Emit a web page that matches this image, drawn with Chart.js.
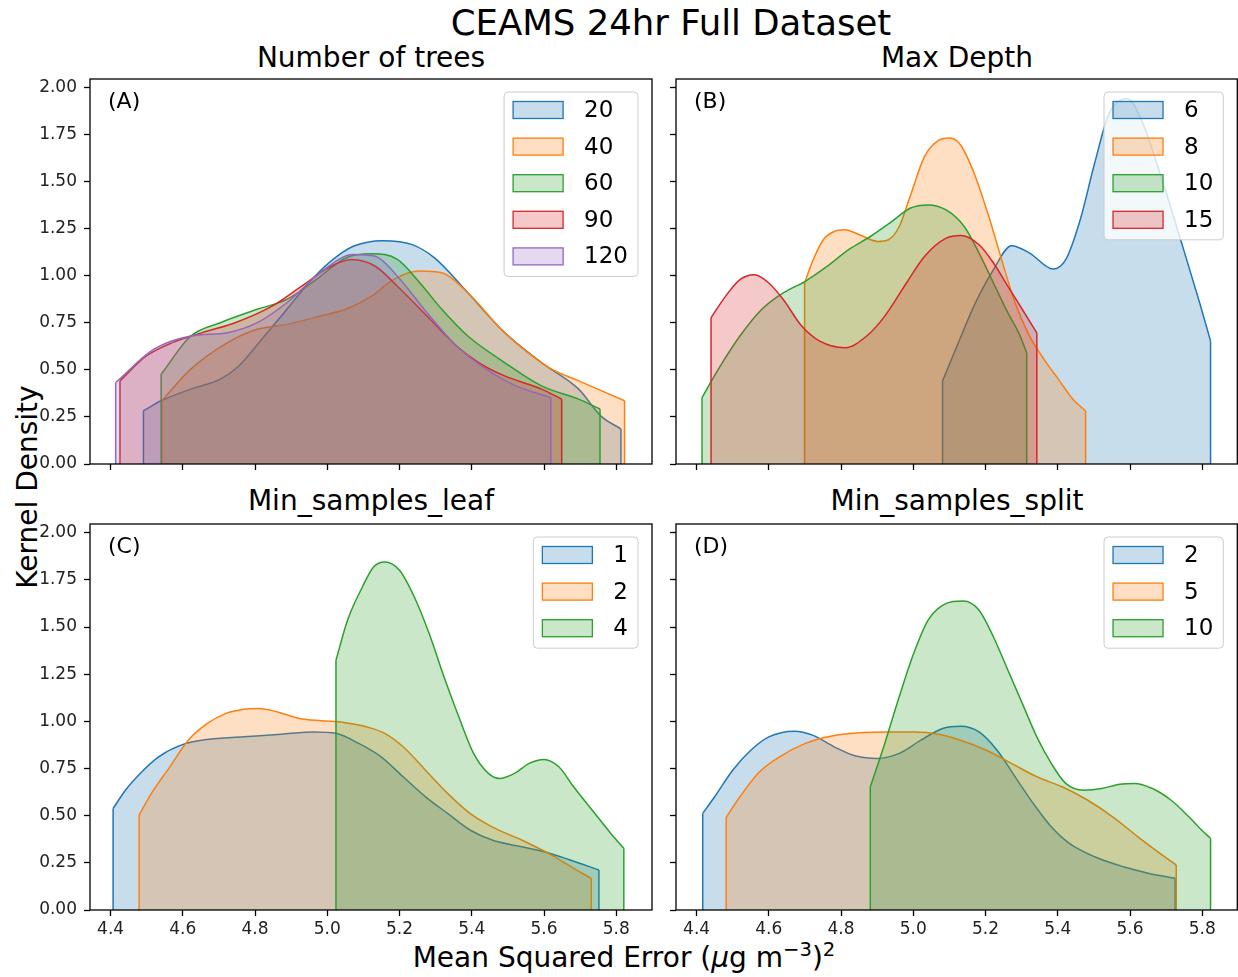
<!DOCTYPE html>
<html>
<head>
<meta charset="utf-8">
<title>CEAMS 24hr Full Dataset</title>
<script src="https://cdn.jsdelivr.net/npm/chart.js@4.4.1/dist/chart.umd.min.js"></script>
<style>
  body { margin: 0; width: 1238px; height: 977px; overflow: hidden; background: #fff;
         font-family: 'DejaVu Sans', sans-serif; color: #000; position: relative; }
  canvas { position: absolute; }
  .txt { position: absolute; white-space: nowrap; line-height: 1; transform: translate(-50%, -50%); }
  .ylab { transform: translate(-50%, -50%) rotate(-90deg); }
  sup { font-size: 70%; vertical-align: 0; position: relative; top: -0.55em; }
</style>
</head>
<body>
<div class="txt" style="left:671px; top:23px; font-size:35.5px">CEAMS 24hr Full Dataset</div>
<div class="txt" style="left:371px; top:58px; font-size:28px">Number of trees</div>
<div class="txt" style="left:957px; top:58px; font-size:28px">Max Depth</div>
<div class="txt" style="left:371px; top:501px; font-size:28px">Min_samples_leaf</div>
<div class="txt" style="left:957px; top:501px; font-size:28px">Min_samples_split</div>
<div class="txt" style="left:624px; top:958px; font-size:28px">Mean Squared Error (<i>μ</i>g m<sup>−3</sup>)<sup>2</sup></div>
<div class="txt ylab" style="left:28px; top:487px; font-size:28px">Kernel Density</div>

<canvas id="panelA" width="662" height="420" style="left:0px; top:70px"></canvas>
<canvas id="panelB" width="652" height="420" style="left:586px; top:70px"></canvas>
<canvas id="panelC" width="662" height="430" style="left:0px; top:515px"></canvas>
<canvas id="panelD" width="652" height="430" style="left:586px; top:515px"></canvas>

<script>
// shared axes
const xTicks = [4.4, 4.6, 4.8, 5.0, 5.2, 5.4, 5.6, 5.8];
const yTicks = [0, 0.25, 0.5, 0.75, 1.0, 1.25, 1.5, 1.75, 2.0];
const X_MIN = 4.343, X_MAX = 5.899, Y_MAX = 2.046;
const colors = ['#1f77b4', '#ff7f0e', '#2ca02c', '#d62728', '#9467bd'];

// (A) number of trees
const treesLabels = ['20', '40', '60', '90', '120'];
const trees20x = [4.491, 4.540, 4.622, 4.704, 4.755, 4.826, 4.888, 4.949, 5.010, 5.072, 5.154, 5.235, 5.297, 5.389, 5.491, 5.593, 5.696, 5.757, 5.813];
const trees20y = [0.283, 0.336, 0.398, 0.451, 0.521, 0.680, 0.822, 0.963, 1.078, 1.157, 1.187, 1.166, 1.095, 0.910, 0.698, 0.539, 0.398, 0.256, 0.186];
const trees40x = [4.542, 4.622, 4.724, 4.806, 4.888, 4.980, 5.051, 5.123, 5.184, 5.256, 5.317, 5.389, 5.491, 5.614, 5.696, 5.823];
const trees40y = [0.336, 0.504, 0.645, 0.716, 0.742, 0.786, 0.822, 0.892, 0.981, 1.025, 1.016, 0.910, 0.698, 0.512, 0.442, 0.336];
const trees60x = [4.540, 4.622, 4.704, 4.806, 4.888, 4.970, 5.051, 5.123, 5.194, 5.256, 5.317, 5.389, 5.491, 5.593, 5.696, 5.755];
const trees60y = [0.477, 0.680, 0.751, 0.822, 0.875, 0.981, 1.095, 1.117, 1.087, 0.963, 0.822, 0.680, 0.539, 0.415, 0.345, 0.292];
const trees90x = [4.426, 4.499, 4.571, 4.653, 4.745, 4.847, 4.929, 5.010, 5.067, 5.133, 5.194, 5.276, 5.358, 5.419, 5.491, 5.593, 5.649];
const trees90y = [0.442, 0.574, 0.645, 0.698, 0.751, 0.839, 0.945, 1.051, 1.087, 1.051, 0.945, 0.786, 0.627, 0.539, 0.468, 0.398, 0.345];
const trees120x = [4.414, 4.520, 4.622, 4.724, 4.806, 4.888, 4.980, 5.072, 5.133, 5.194, 5.276, 5.358, 5.440, 5.522, 5.619];
const trees120y = [0.433, 0.610, 0.680, 0.698, 0.751, 0.857, 1.016, 1.113, 1.104, 0.998, 0.804, 0.627, 0.504, 0.415, 0.353];

// (B) max depth
const depthLabels = ['6', '8', '10', '15'];
const depth6x = [5.081, 5.121, 5.172, 5.222, 5.272, 5.322, 5.387, 5.422, 5.462, 5.502, 5.542, 5.592, 5.632, 5.683, 5.743, 5.793, 5.823];
const depth6y = [0.441, 0.627, 0.856, 1.033, 1.160, 1.121, 1.036, 1.086, 1.297, 1.598, 1.862, 1.942, 1.827, 1.545, 1.174, 0.856, 0.653];
const depth8x = [4.699, 4.721, 4.751, 4.781, 4.811, 4.851, 4.901, 4.931, 4.961, 4.991, 5.031, 5.071, 5.101, 5.131, 5.172, 5.212, 5.242, 5.282, 5.322, 5.362, 5.402, 5.442, 5.477];
const depth8y = [0.962, 1.077, 1.192, 1.236, 1.245, 1.218, 1.183, 1.192, 1.262, 1.421, 1.633, 1.721, 1.733, 1.695, 1.527, 1.297, 1.103, 0.856, 0.680, 0.556, 0.450, 0.344, 0.282];
const depth10x = [4.415, 4.460, 4.520, 4.580, 4.640, 4.701, 4.761, 4.821, 4.881, 4.941, 4.991, 5.041, 5.091, 5.141, 5.182, 5.222, 5.262, 5.292, 5.314];
const depth10y = [0.353, 0.503, 0.680, 0.821, 0.909, 0.971, 1.050, 1.139, 1.209, 1.289, 1.359, 1.377, 1.350, 1.262, 1.121, 0.962, 0.803, 0.697, 0.591];
const depth15x = [4.440, 4.480, 4.520, 4.560, 4.600, 4.640, 4.691, 4.741, 4.811, 4.871, 4.921, 4.981, 5.031, 5.091, 5.131, 5.182, 5.222, 5.262, 5.302, 5.342];
const depth15y = [0.777, 0.891, 0.980, 1.006, 0.962, 0.874, 0.733, 0.653, 0.618, 0.680, 0.786, 0.962, 1.103, 1.200, 1.214, 1.165, 1.068, 0.944, 0.821, 0.697];

// (C) min_samples_leaf
const leafLabels = ['1', '2', '4'];
const leaf1x = [4.407, 4.441, 4.482, 4.533, 4.595, 4.667, 4.769, 4.872, 4.964, 5.026, 5.087, 5.149, 5.210, 5.272, 5.333, 5.395, 5.456, 5.538, 5.600, 5.672, 5.752];
const leaf1y = [0.538, 0.635, 0.724, 0.812, 0.874, 0.904, 0.918, 0.932, 0.944, 0.936, 0.883, 0.812, 0.706, 0.600, 0.512, 0.424, 0.371, 0.335, 0.309, 0.265, 0.212];
const leaf2x = [4.479, 4.513, 4.564, 4.615, 4.667, 4.718, 4.769, 4.810, 4.862, 4.923, 4.985, 5.046, 5.108, 5.159, 5.210, 5.272, 5.333, 5.395, 5.456, 5.538, 5.621, 5.682, 5.731];
const leaf2y = [0.503, 0.618, 0.759, 0.900, 0.988, 1.041, 1.064, 1.068, 1.050, 1.015, 1.003, 0.994, 0.971, 0.936, 0.865, 0.741, 0.618, 0.512, 0.441, 0.371, 0.291, 0.221, 0.168];
const leaf4x = [5.024, 5.056, 5.097, 5.128, 5.159, 5.200, 5.241, 5.282, 5.323, 5.364, 5.405, 5.446, 5.477, 5.518, 5.559, 5.600, 5.641, 5.682, 5.733, 5.785, 5.821];
const leaf4y = [1.324, 1.536, 1.712, 1.818, 1.845, 1.801, 1.659, 1.465, 1.236, 1.024, 0.830, 0.724, 0.697, 0.724, 0.777, 0.798, 0.759, 0.653, 0.530, 0.406, 0.327];

// (D) min_samples_split
const splitLabels = ['2', '5', '10'];
const split2x = [4.417, 4.450, 4.500, 4.550, 4.600, 4.671, 4.721, 4.781, 4.841, 4.901, 4.961, 5.021, 5.081, 5.131, 5.182, 5.232, 5.282, 5.332, 5.382, 5.432, 5.502, 5.582, 5.653, 5.725];
const split2y = [0.512, 0.600, 0.741, 0.847, 0.918, 0.948, 0.927, 0.865, 0.816, 0.803, 0.830, 0.900, 0.962, 0.974, 0.944, 0.847, 0.706, 0.565, 0.441, 0.353, 0.282, 0.229, 0.194, 0.168];
const split5x = [4.482, 4.520, 4.570, 4.630, 4.701, 4.771, 4.851, 4.931, 5.001, 5.071, 5.131, 5.202, 5.272, 5.342, 5.412, 5.482, 5.552, 5.622, 5.683, 5.728];
const split5y = [0.491, 0.600, 0.724, 0.812, 0.883, 0.921, 0.939, 0.944, 0.944, 0.932, 0.900, 0.847, 0.777, 0.706, 0.653, 0.583, 0.494, 0.388, 0.300, 0.238];
const split10x = [4.881, 4.921, 4.961, 5.001, 5.041, 5.081, 5.139, 5.182, 5.222, 5.262, 5.302, 5.342, 5.382, 5.422, 5.472, 5.522, 5.572, 5.612, 5.662, 5.713, 5.763, 5.798, 5.823];
const split10y = [0.653, 0.883, 1.130, 1.359, 1.536, 1.615, 1.638, 1.589, 1.447, 1.271, 1.094, 0.918, 0.777, 0.671, 0.635, 0.644, 0.667, 0.671, 0.644, 0.583, 0.494, 0.424, 0.380];

Chart.defaults.font.family = "'DejaVu Sans', sans-serif";
Chart.defaults.font.size = 17;
Chart.defaults.color = '#000';

function rgba(hex, a) {
    const n = parseInt(hex.slice(1), 16);
    return `rgba(${n >> 16}, ${(n >> 8) & 255}, ${n & 255}, ${a})`;
}

// each curve: filled density + the two vertical cut-off edges
function buildDatasets(series) {
    const out = [];
    series.forEach((s, i) => {
        const pts = s.x.map((v, k) => ({ x: v, y: s.y[k] }));
        const base = i * 3;
        out.push({
            data: pts,
            borderColor: colors[i],
            backgroundColor: rgba(colors[i], 0.25),
            fill: 'origin',
            borderWidth: 1.5,
            pointRadius: 0,
            cubicInterpolationMode: 'monotone',
            order: -base
        });
        const ends = [pts[0], pts[pts.length - 1]];
        ends.forEach((p, k) => {
            out.push({
                data: [{ x: p.x, y: 0 }, { x: p.x, y: p.y }],
                borderColor: colors[i],
                borderWidth: 1.5,
                pointRadius: 0,
                fill: false,
                order: -(base + 1 + k)
            });
        });
    });
    return out;
}

// spines, panel letter and legend box
function makeDecor(letter, names) {
    return {
        id: 'decor',
        afterDraw(chart) {
            const ctx = chart.ctx;
            const ca = chart.chartArea;
            ctx.save();

            const r = Math.min(ca.right, chart.width - 0.7);
            ctx.strokeStyle = '#000';
            ctx.lineWidth = 1.3;
            ctx.strokeRect(ca.left, ca.top, r - ca.left, ca.bottom - ca.top);

            ctx.fillStyle = '#000';
            ctx.font = "22px 'DejaVu Sans'";
            ctx.textBaseline = 'middle';
            ctx.textAlign = 'left';
            ctx.fillText(letter, ca.left + 18, ca.top + 23);

            ctx.font = "23px 'DejaVu Sans'";
            const textW = Math.max(...names.map(n => ctx.measureText(n).width));
            const rowH = 36.6;
            const boxW = 9 + 50 + 21 + textW + 10;
            const right = r - 14;
            const left = right - boxW;
            const top = ca.top + 13;
            const boxH = 18 + (names.length - 1) * rowH + 20;

            ctx.beginPath();
            ctx.roundRect(left, top, boxW, boxH, 4);
            ctx.fillStyle = 'rgba(255,255,255,0.8)';
            ctx.fill();
            ctx.strokeStyle = '#cccccc';
            ctx.lineWidth = 1;
            ctx.stroke();

            names.forEach((n, j) => {
                const cy = top + 18 + j * rowH;
                ctx.fillStyle = rgba(colors[j], 0.25);
                ctx.fillRect(left + 9, cy - 8.5, 50, 17);
                ctx.strokeStyle = colors[j];
                ctx.lineWidth = 1.3;
                ctx.strokeRect(left + 9, cy - 8.5, 50, 17);
                ctx.fillStyle = '#000';
                ctx.fillText(n, left + 80, cy + 1);
            });
            ctx.restore();
        }
    };
}

function makePanel(id, series, names, letter, showX, showY, xHeight) {
    new Chart(document.getElementById(id), {
        type: 'line',
        data: { datasets: buildDatasets(series) },
        options: {
            responsive: false,
            devicePixelRatio: 1,
            animation: false,
            events: [],
            layout: { padding: { top: 9, right: id === 'panelA' || id === 'panelC' ? 10 : 0, left: 0, bottom: 0 } },
            plugins: { legend: { display: false }, tooltip: { enabled: false } },
            scales: {
                x: {
                    type: 'linear',
                    min: X_MIN,
                    max: X_MAX,
                    afterBuildTicks: s => { s.ticks = xTicks.map(v => ({ value: v })); },
                    afterFit: s => { s.height = xHeight; s.paddingLeft = 0; s.paddingRight = 0; },
                    grid: { drawOnChartArea: false, drawTicks: true, tickLength: 6, tickWidth: 1.3, tickColor: '#000' },
                    border: { display: false },
                    ticks: {
                        autoSkip: false, maxRotation: 0, padding: 3, color: '#222',
                        callback: v => showX ? v.toFixed(1) : ''
                    }
                },
                y: {
                    min: 0,
                    max: Y_MAX,
                    afterBuildTicks: s => { s.ticks = yTicks.map(v => ({ value: v })); },
                    afterFit: s => { s.width = 90; s.paddingTop = 0; s.paddingBottom = 0; },
                    grid: { drawOnChartArea: false, drawTicks: true, tickLength: 6, tickWidth: 1.3, tickColor: '#000' },
                    border: { display: false },
                    ticks: {
                        autoSkip: false, padding: 7, color: '#222',
                        callback: v => showY ? v.toFixed(2) : ''
                    }
                }
            }
        },
        plugins: [makeDecor(letter, names)]
    });
}

makePanel('panelA', [
    { x: trees20x, y: trees20y }, { x: trees40x, y: trees40y }, { x: trees60x, y: trees60y },
    { x: trees90x, y: trees90y }, { x: trees120x, y: trees120y }
], treesLabels, '(A)', false, true, 26);

makePanel('panelB', [
    { x: depth6x, y: depth6y }, { x: depth8x, y: depth8y },
    { x: depth10x, y: depth10y }, { x: depth15x, y: depth15y }
], depthLabels, '(B)', false, false, 26);

makePanel('panelC', [
    { x: leaf1x, y: leaf1y }, { x: leaf2x, y: leaf2y }, { x: leaf4x, y: leaf4y }
], leafLabels, '(C)', true, true, 35);

makePanel('panelD', [
    { x: split2x, y: split2y }, { x: split5x, y: split5y }, { x: split10x, y: split10y }
], splitLabels, '(D)', true, false, 35);
</script>
</body>
</html>
